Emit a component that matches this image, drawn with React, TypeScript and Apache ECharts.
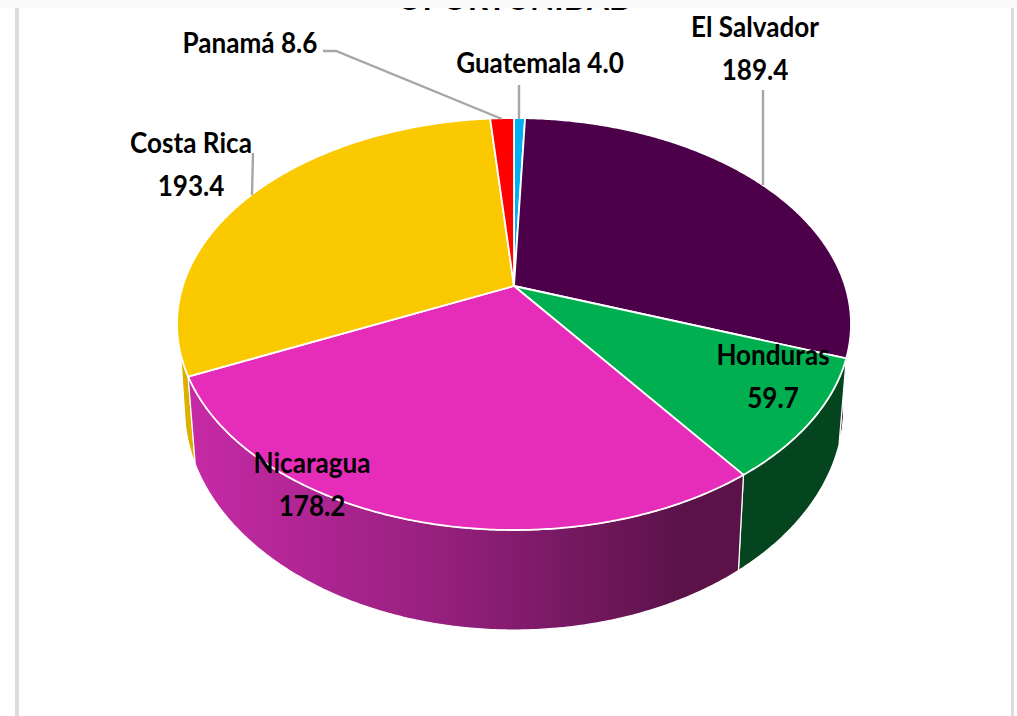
import React, { useEffect, useRef } from "react";
import * as echarts from "echarts";

const categories = ["Guatemala", "El Salvador", "Honduras", "Nicaragua", "Costa Rica", "Panamá"];
const values = [4.0, 189.4, 59.7, 178.2, 193.4, 8.6];
const faceColors = ["#00b0f0", "#4d004a", "#00b050", "#e62dba", "#fbc900", "#ff0000"];
const wallColors: any[] = [
  "#008fc4",
  "#3a0037",
  "#04451f",
  {
    type: "linear", x: 0, y: 0, x2: 1, y2: 0,
    colorStops: [
      { offset: 0, color: "#c72aa6" },
      { offset: 0.45, color: "#96207e" },
      { offset: 0.9, color: "#5a1248" },
      { offset: 1, color: "#5a1248" },
    ],
  },
  "#dcb000",
  "#cc0000",
];

// Perspective projection of the pie's circle onto the page.
const K = 0.1845;
const CX = 514;
const TOP = { cy: 286, a: 199, b: 331.2 };
const BOTTOM = { cy: 366.4, a: 215, b: 324 };
const COSTA_RICA = 4;
const COSTA_RICA_TOP_SWEEP = 6;
const COSTA_RICA_BOTTOM_SWEEP = 10;
const total = values.reduce((s, v) => s + v, 0);

function project(deg: number, p: { cy: number; a: number; b: number }): number[] {
  const t = (deg * Math.PI) / 180;
  const u = Math.sin(t);
  const v = -Math.cos(t);
  const w = 1 - K * v;
  return [CX + (p.b * u) / w, p.cy + (p.a * v) / w];
}

function arc(a0: number, a1: number, p: { cy: number; a: number; b: number }): number[][] {
  const n = Math.max(2, Math.ceil((a1 - a0) * 2));
  const pts: number[][] = [];
  for (let i = 0; i <= n; i++) pts.push(project(a0 + ((a1 - a0) * i) / n, p));
  return pts;
}

function sliceAngles(index: number): [number, number] {
  let before = 0;
  for (let i = 0; i < index; i++) before += values[i];
  return [(before / total) * 360, ((before + values[index]) / total) * 360];
}

const FONT = 'Lato, "Roboto", sans-serif';

const labelLayout = [
  { text: "Guatemala 4.0", x: 540, y: 62 },
  { text: "El Salvador\n189.4", x: 755, y: 47 },
  { text: "Honduras\n59.7", x: 773, y: 375 },
  { text: "Nicaragua\n178.2", x: 312, y: 483 },
  { text: "Costa Rica\n193.4", x: 191, y: 163 },
  { text: "Panamá 8.6", x: 250, y: 42 },
];

const leaderLines = [
  [[519, 85], [519, 119]],
  [[763, 90], [763, 185]],
  [[253, 153], [252, 195]],
  [[323, 51], [336, 51], [502, 119]],
];

export default function App() {
  const ref = useRef<HTMLDivElement>(null);
  useEffect(() => {
    const chart = echarts.init(ref.current!, undefined, { renderer: "svg" });
    const wallOrder = [0, 5, 1, 4, 2, 3];
    const graphic: any[] = [
      {
        type: "text", x: 515, y: -2, z: 20, scaleX: 0.99,
        style: {
          text: "OPORTUNIDAD", fontFamily: FONT, fontWeight: "bold", fontSize: 32,
          fill: "#000", align: "center", verticalAlign: "middle", lineHeight: 44,
        },
      },
      { type: "rect", z: 21, shape: { x: 0, y: 0, width: 1017, height: 8 }, style: { fill: "#fafafa" } },
      { type: "rect", z: 21, shape: { x: 15, y: 8, width: 4, height: 708 }, style: { fill: "#dcdcdc" } },
      { type: "rect", z: 21, shape: { x: 1011, y: 8, width: 3, height: 708 }, style: { fill: "#dcdcdc" } },
      ...leaderLines.map((pts) => ({
        type: "polyline", z: 22,
        shape: { points: pts },
        style: { stroke: "#a6a6a6", lineWidth: 2.4, fill: "none" },
      })),
      ...labelLayout.map((l) => ({
        type: "text", z: 30, x: l.x, y: l.y, scaleX: 0.9,
        style: {
          text: l.text, fontFamily: FONT, fontWeight: "bold", fontSize: 29, lineHeight: 43,
          fill: "#000", align: "center", verticalAlign: "middle",
        },
      })),
    ];
    chart.setOption({
      animation: false,
      backgroundColor: "#fff",
      graphic,
      series: [
        {
          type: "custom",
          coordinateSystem: "none",
          silent: true,
          clip: false,
          data: wallOrder.map((i) => [i, values[i]]),
          renderItem: (_p: any, api: any) => {
            const i = api.value(0);
            const [a0, a1] = sliceAngles(i);
            const points =
              i === COSTA_RICA
                ? [
                    ...arc(a0, a0 + COSTA_RICA_TOP_SWEEP, TOP),
                    ...arc(a0, a0 + COSTA_RICA_BOTTOM_SWEEP, BOTTOM).reverse(),
                  ]
                : [...arc(a0, a1, TOP), ...arc(a0, a1, BOTTOM).reverse()];
            return {
              type: "polygon", z2: 1,
              shape: { points },
              style: { fill: wallColors[i], stroke: "#fff", lineWidth: 1.2 },
            };
          },
        },
        {
          type: "custom",
          coordinateSystem: "none",
          silent: true,
          clip: false,
          z: 3,
          data: values.map((v, i) => [i, v]),
          renderItem: (_p: any, api: any) => {
            const i = api.value(0);
            const [a0, a1] = sliceAngles(i);
            return {
              type: "polygon",
              shape: { points: [[CX, TOP.cy], ...arc(a0, a1, TOP)] },
              style: { fill: faceColors[i], stroke: "#fff", lineWidth: 1.8, lineJoin: "round" },
            };
          },
        },
      ],
    });
    return () => chart.dispose();
  }, []);
  return (
    <div
      ref={ref}
      aria-label={categories.join(", ")}
      style={{ position: "absolute", left: 0, top: 0, width: 1017, height: 716 }}
    />
  );
}
